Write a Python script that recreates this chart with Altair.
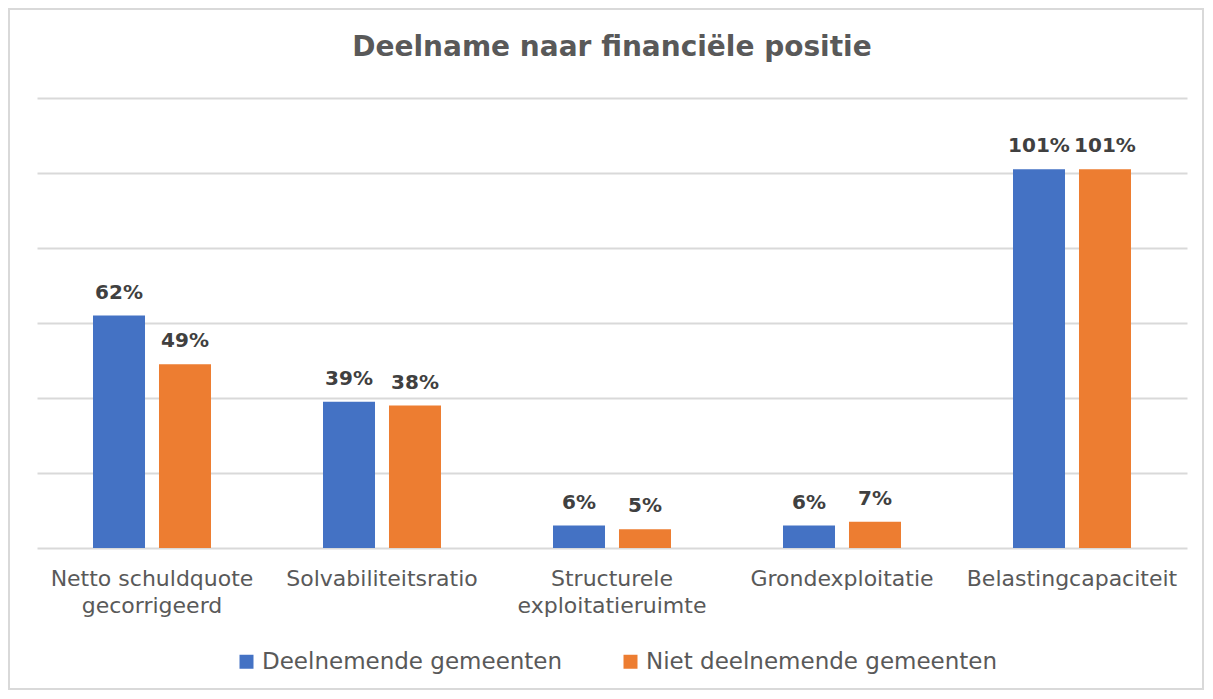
import altair as alt
import pandas as pd

title_text = "Deelname naar financiële positie"
categories = ["Netto schuldquote gecorrigeerd", "Solvabiliteitsratio",
              "Structurele exploitatieruimte", "Grondexploitatie", "Belastingcapaciteit"]
series = ["Deelnemende gemeenten", "Niet deelnemende gemeenten"]
deelnemend = [62, 39, 6, 6, 101]
niet_deelnemend = [49, 38, 5, 7, 101]
colors = ["#4472C4", "#ED7D31"]

rows = []
for c, a, b in zip(categories, deelnemend, niet_deelnemend):
    rows.append({"categorie": c, "groep": series[0], "waarde": a})
    rows.append({"categorie": c, "groep": series[1], "waarde": b})
df = pd.DataFrame(rows)

FONT = "DejaVu Sans"

label_expr = ("datum.value == 'Netto schuldquote gecorrigeerd' ? ['Netto schuldquote', 'gecorrigeerd'] : "
              "datum.value == 'Structurele exploitatieruimte' ? ['Structurele', 'exploitatieruimte'] : datum.value")

x = alt.X("categorie:N", sort=categories, title=None,
          scale=alt.Scale(paddingInner=0.487, paddingOuter=0.2435),
          axis=alt.Axis(labelAngle=0, labelExpr=label_expr, domain=False, ticks=False,
                        labelFontSize=22, labelColor="#595959", labelFont=FONT,
                        labelPadding=20, labelLineHeight=27, labelBaseline="top",
                        labelLimit=400))
xo = alt.XOffset("groep:N", sort=series, scale=alt.Scale(paddingInner=0.212, paddingOuter=0))
y = alt.Y("waarde:Q", title=None,
          scale=alt.Scale(domain=[0, 120], nice=False),
          axis=alt.Axis(values=[0, 20, 40, 60, 80, 100, 120], labels=False, ticks=False,
                        domain=False, grid=True, gridColor="#D9D9D9", gridWidth=2))

base = alt.Chart(df)

bars = base.mark_bar().encode(
    x=x, xOffset=xo, y=y,
    color=alt.Color("groep:N", sort=series, title=None,
                    scale=alt.Scale(domain=series, range=colors),
                    legend=alt.Legend(orient="none", legendX=198, legendY=552,
                                      direction="horizontal", symbolType="square",
                                      symbolSize=196, symbolStrokeWidth=0,
                                      labelFontSize=23, labelColor="#595959", labelFont=FONT,
                                      labelOffset=4, columnPadding=56, labelLimit=500)),
)

labels = base.mark_text(baseline="alphabetic", dy=-17, fontSize=20, fontWeight="bold",
                        color="#404040", font=FONT).encode(
    x=x, xOffset=xo, y=y,
    text=alt.Text("label:N"),
).transform_calculate(label="datum.waarde + '%'")

single = pd.DataFrame({"titel": [title_text]})
border = alt.Chart(single).mark_rect(fill="transparent", stroke="#D9D9D9", strokeWidth=2).encode(
    x=alt.value(-28), x2=alt.value(1166), y=alt.value(-89), y2=alt.value(591)
)
title = alt.Chart(single).mark_text(fontSize=28, fontWeight="bold", color="#595959",
                                    font=FONT, baseline="middle", align="center").encode(
    x=alt.value(575), y=alt.value(-50), text="titel:N"
)

chart = alt.layer(border, bars, labels, title).properties(
    width=1150, height=450,
    autosize=alt.AutoSizeParams(type="none"),
    padding={"left": 29, "top": 90, "right": 18, "bottom": 143},
).configure_view(stroke=None)

chart.save("out.html", embed_options={"renderer": "svg", "actions": False})
